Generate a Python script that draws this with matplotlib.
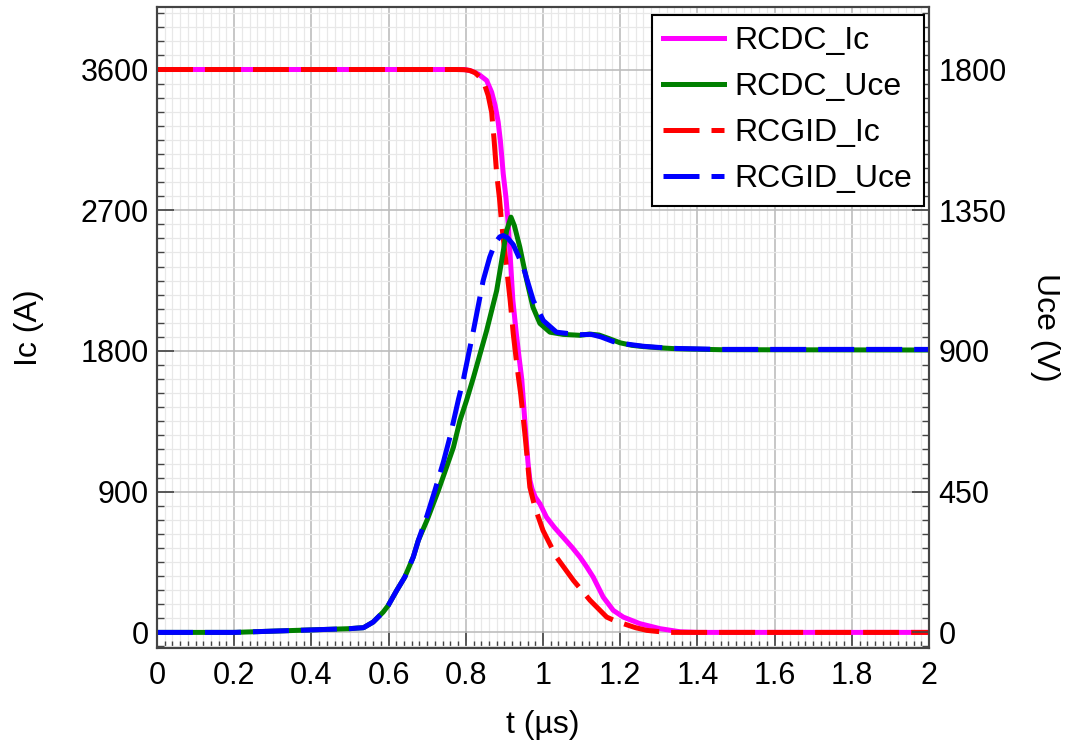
import matplotlib
matplotlib.use("Agg")
import matplotlib.pyplot as plt
from matplotlib.ticker import MultipleLocator, FuncFormatter

plt.rcParams['font.family'] = ['Liberation Sans', 'DejaVu Sans']

# RCDC 集电极电流 (A)
t_dc_ic = [0, 0.78, 0.800, 0.815, 0.833, 0.854, 0.867, 0.876, 0.884, 0.890, 0.897, 0.904, 0.910,
           0.922, 0.931, 0.938, 0.945, 0.956, 0.961, 0.966, 0.972, 0.980, 0.992, 1.009, 1.030,
           1.052, 1.075, 1.096, 1.113, 1.130, 1.156, 1.182, 1.208, 1.251, 1.303, 1.355, 1.40, 2.0]
dc_ic = [3600, 3600, 3599, 3590, 3570, 3530, 3455, 3370, 3263, 3135, 2933, 2783, 2613,
         2123, 1910, 1760, 1620, 1250, 1090, 975, 915, 865, 823, 737, 670,
         609, 545, 481, 420, 354, 226, 141, 98, 56, 24, 4, 0, 0]

# RCGID 集电极电流 (A)
t_gid_ic = [0, 0.775, 0.795, 0.810, 0.824, 0.845, 0.858, 0.867, 0.873, 0.880, 0.887, 0.893,
            0.915, 0.923, 0.930, 0.936, 0.942, 0.954, 0.966, 0.979, 1.0, 1.035, 1.079,
            1.122, 1.165, 1.190, 1.208, 1.240, 1.269, 1.32, 2.0]
gid_ic = [3600, 3600, 3599, 3594, 3580, 3530, 3434, 3327, 3160, 2933, 2783, 2613,
          2123, 1910, 1760, 1640, 1530, 1250, 929, 801, 652, 481, 332,
          205, 98, 70, 56, 30, 13, 0, 0]

# RCDC 集射极电压 (V)
t_dc_uce = [0, 0.2, 0.3, 0.4, 0.5, 0.521, 0.535, 0.560, 0.586, 0.599, 0.621, 0.642, 0.664,
            0.677, 0.70, 0.729, 0.750, 0.768, 0.785, 0.802, 0.820, 0.854, 0.880, 0.893,
            0.906, 0.917, 0.926, 0.940, 0.958, 0.974, 0.992, 1.018, 1.052, 1.096, 1.120,
            1.145, 1.170, 1.200, 1.230, 1.26, 1.303, 1.346, 1.46, 2.0]
dc_uce = [0, 0, 4, 8, 12, 14, 15, 33, 65, 86, 134, 177, 241,
          294, 360, 454, 528, 592, 678, 742, 816, 965, 1093, 1189,
          1285, 1328, 1300, 1232, 1125, 1040, 988, 960, 953, 950, 954,
          951, 940, 926, 918, 914, 910, 907, 904, 903]

# RCGID 集射极电压 (V)
t_gid_uce = [0, 0.2, 0.3, 0.4, 0.5, 0.521, 0.535, 0.560, 0.586, 0.599, 0.621, 0.642, 0.664,
             0.677, 0.70, 0.720, 0.742, 0.759, 0.781, 0.794, 0.819, 0.845, 0.862, 0.876,
             0.888, 0.897, 0.908, 0.923, 0.949, 0.975, 1.001, 1.035, 1.070, 1.096, 1.125,
             1.150, 1.182, 1.217, 1.26, 1.303, 1.346, 1.46, 2.0]
gid_uce = [0, 0, 4, 8, 12, 14, 15, 33, 65, 86, 134, 177, 241,
           294, 375, 454, 545, 625, 745, 810, 960, 1125, 1200, 1245,
           1265, 1269, 1262, 1240, 1168, 1061, 997, 960, 955, 952, 953,
           945, 930, 922, 915, 911, 908, 905, 905]

fig = plt.figure(figsize=(10.78, 7.49), dpi=100)
ax = fig.add_axes([0.1456, 0.1348, 0.7162, 0.8559])
ax2 = ax.twinx()

lw = 3.6
dash = (7.2, 2.4)
l1, = ax.plot(t_dc_ic, dc_ic, color='#ff00ff', lw=lw, label='RCDC_Ic')
l3, = ax.plot(t_gid_ic, gid_ic, color='#ff0000', lw=lw, dashes=dash, label='RCGID_Ic')
l2, = ax2.plot(t_dc_uce, dc_uce, color='#008000', lw=lw, label='RCDC_Uce')
l4, = ax2.plot(t_gid_uce, gid_uce, color='#0000ff', lw=lw, dashes=dash, label='RCGID_Uce')

ax.set_xlim(0, 2)
ax.set_ylim(-100, 4000)
ax2.set_ylim(-50, 2000)

ax.xaxis.set_major_locator(MultipleLocator(0.2))
ax.xaxis.set_minor_locator(MultipleLocator(0.02))
ax.xaxis.set_major_formatter(FuncFormatter(lambda v, p: '{:g}'.format(round(v, 2))))
ax.yaxis.set_major_locator(MultipleLocator(900))
ax.yaxis.set_minor_locator(MultipleLocator(90))
ax2.yaxis.set_major_locator(MultipleLocator(450))
ax2.yaxis.set_minor_locator(MultipleLocator(45))

ax.set_axisbelow(True)
ax.grid(which='major', color='#bdbdbd', lw=1.2)
ax.grid(which='minor', color='#e8e8e8', lw=0.9)

for a in (ax, ax2):
    a.tick_params(which='major', direction='in', length=12, width=1.2, color='#444444',
                  labelsize=22, top=False)
    a.tick_params(which='minor', direction='in', length=5, width=1.0, color='#444444', top=False)
    for s in a.spines.values():
        s.set_color('#444444')
        s.set_linewidth(1.5)
ax.tick_params(axis='y', which='both', right=False, pad=6)
ax.tick_params(axis='x', which='major', pad=9)
ax2.tick_params(axis='y', which='both', pad=7)

ax.set_xlabel('t (µs)', fontsize=23, labelpad=14)
ax.set_ylabel('Ic (A)', fontsize=23, labelpad=26)
ax2.set_ylabel('Uce (V)', fontsize=23, rotation=270, labelpad=38)

leg = ax2.legend(handles=[l1, l2, l3, l4], loc='upper right', bbox_to_anchor=(0.993, 0.987),
                 borderaxespad=0, fontsize=23, handlelength=1.9, handletextpad=0.35,
                 labelspacing=0.5, borderpad=0.35, fancybox=False, framealpha=1,
                 edgecolor='black')
leg.get_frame().set_linewidth(1.5)

plt.savefig('out.png', dpi=100)
